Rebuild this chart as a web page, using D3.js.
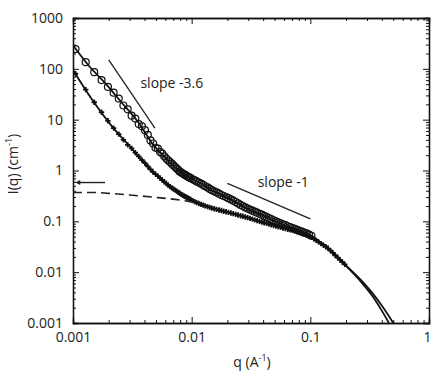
<!DOCTYPE html>
<html>
<head>
<meta charset="utf-8">
<script src="https://cdn.jsdelivr.net/npm/d3@7"></script>
<style>
  body { margin: 0; background: #fff; }
  svg text { font-family: 'Open Sans', sans-serif; fill: #222; }
</style>
</head>
<body>
<div id="chart"></div>
<script>
// upper sample (open circles)
const qUpper = [0.00105, 0.00128, 0.00151, 0.00174, 0.00197, 0.0022, 0.00243, 0.00266, 0.00289, 0.00312,
    0.00335, 0.00358, 0.00381, 0.00404, 0.00427, 0.0045, 0.00473, 0.00496, 0.00519, 0.00542,
    0.00565, 0.00588, 0.00611, 0.00634, 0.00657, 0.0068, 0.00703, 0.00726, 0.00749, 0.00772,
    0.00795, 0.00818, 0.00841, 0.00864, 0.00887, 0.0091, 0.00933, 0.00956, 0.00979,
    0.0102, 0.0106, 0.011, 0.0115, 0.012, 0.0125, 0.013, 0.0136, 0.0142, 0.0148,
    0.0155, 0.0162, 0.017, 0.0178, 0.0186, 0.0195, 0.0204, 0.0214, 0.0224, 0.0235,
    0.0246, 0.0258, 0.027, 0.0283, 0.0296, 0.031, 0.0325, 0.034, 0.0356, 0.0373,
    0.039, 0.0408, 0.0427, 0.0447, 0.0468, 0.049, 0.0513, 0.0537, 0.0562, 0.0588,
    0.0616, 0.0645, 0.0675, 0.0707, 0.074, 0.0775, 0.0811, 0.0849, 0.0889, 0.093, 0.0974, 0.102]
const iUpper = [245, 135, 86, 60, 44, 34, 26, 19, 16, 12,
    10.5, 8.2, 7.4, 6.2, 5.0, 3.9, 3.4, 2.8, 2.7, 2.3,
    2.15, 1.9, 1.72, 1.58, 1.47, 1.36, 1.26, 1.17, 1.09, 1.02,
    0.95, 0.91, 0.87, 0.84, 0.81, 0.78, 0.75, 0.73, 0.705,
    0.67, 0.64, 0.61, 0.58, 0.55, 0.52, 0.49, 0.465, 0.435, 0.41,
    0.39, 0.37, 0.35, 0.33, 0.315, 0.30, 0.285, 0.27, 0.255, 0.24,
    0.225, 0.21, 0.20, 0.188, 0.178, 0.17, 0.162, 0.155, 0.148, 0.141,
    0.135, 0.128, 0.122, 0.116, 0.111, 0.105, 0.1, 0.095, 0.091, 0.087,
    0.084, 0.08, 0.077, 0.074, 0.071, 0.068, 0.065, 0.0625, 0.06, 0.058, 0.055, 0.052]

// lower sample (small crosses)
const qLower = qUpper.concat([0.107, 0.112, 0.117, 0.123, 0.129, 0.135, 0.141, 0.148, 0.155,
    0.162, 0.17, 0.178, 0.186, 0.195])
const iLower = [80, 39, 22, 14, 9.5, 6.8, 5.2, 4.0, 3.2, 2.73,
    2.24, 1.9, 1.61, 1.39, 1.2, 1.05, 0.931, 0.848, 0.773, 0.708,
    0.65, 0.601, 0.556, 0.515, 0.481, 0.455, 0.432, 0.411, 0.392, 0.372,
    0.356, 0.34, 0.326, 0.315, 0.305, 0.295, 0.286, 0.278, 0.269,
    0.255, 0.244, 0.233, 0.224, 0.216, 0.209, 0.202, 0.195, 0.188, 0.182,
    0.177, 0.172, 0.167, 0.163, 0.158, 0.154, 0.15, 0.1456, 0.1415, 0.137,
    0.133, 0.129, 0.1256, 0.1216, 0.118, 0.1143, 0.1104, 0.107, 0.1035, 0.1,
    0.0969, 0.0938, 0.091, 0.0883, 0.0857, 0.083, 0.0807, 0.0782, 0.0759, 0.074,
    0.0718, 0.07, 0.0681, 0.0662, 0.0645, 0.0622, 0.0598, 0.0575, 0.0553, 0.0532, 0.0511, 0.0484,
    0.0452, 0.0422, 0.0394, 0.0365, 0.0339, 0.0317, 0.0295, 0.0265, 0.0239,
    0.0215, 0.0194, 0.0175, 0.0158, 0.0143]

// model fits
const fitUpperQ = [0.001, 0.00136, 0.00186, 0.00258, 0.00357, 0.00461, 0.0065, 0.0079, 0.0096, 0.0125,
    0.015, 0.02, 0.029, 0.04, 0.055, 0.075, 0.098, 0.14, 0.2, 0.27, 0.33, 0.4, 0.5]
const fitUpperI = [290, 115, 53, 21.5, 8.7, 3.5, 1.5, 0.95, 0.72, 0.52,
    0.4, 0.29, 0.18, 0.13, 0.092, 0.07, 0.055, 0.03, 0.0135, 0.0068, 0.004, 0.0022, 0.001]
const fitLowerQ = [0.001, 0.00145, 0.00213, 0.00313, 0.00461, 0.0065, 0.0084, 0.011, 0.015, 0.02,
    0.029, 0.04, 0.055, 0.075, 0.1, 0.14, 0.2, 0.27, 0.33, 0.4, 0.46]
const fitLowerI = [95, 24.7, 7.4, 2.7, 0.98, 0.49, 0.327, 0.233, 0.18, 0.152,
    0.12, 0.095, 0.077, 0.064, 0.05, 0.03, 0.0133, 0.0063, 0.0035, 0.00175, 0.001]

// dashed contribution
const dashQ = [0.001, 0.0015, 0.002, 0.003, 0.0047, 0.0079, 0.0102]
const dashI = [0.37, 0.37, 0.355, 0.33, 0.3, 0.263, 0.24]

// guides
const slopeAQ = [0.002, 0.0049]
const slopeAI = [150, 6.8]
const slopeBQ = [0.02, 0.1]
const slopeBI = [0.56, 0.112]
const arrowQ = [0.00186, 0.00114]
const arrowI = [0.58, 0.58]

const xMajor = [0.001, 0.01, 0.1, 1]
const xLabels = ['0.001', '0.01', '0.1', '1']
const yMajor = [0.001, 0.01, 0.1, 1, 10, 100, 1000]
const yLabels = ['0.001', '0.01', '0.1', '1', '10', '100', '1000']

let width = 432
let height = 374
let margin = { top: 18, right: 3, bottom: 51, left: 73 },
    w = width - margin.left - margin.right,
    h = height - margin.top - margin.bottom

let svg = d3
    .select('#chart')
    .append('svg')
    .attr('width', width)
    .attr('height', height)
let g = svg.append('g').attr('transform', 'translate(' + margin.left + ',' + margin.top + ')')

let x = d3.scaleLog().domain([0.001, 1]).range([0, w])
let y = d3.scaleLog().domain([0.001, 1000]).range([h, 0])

// minor tick values: 2..9 in each decade
function minors(majors) {
    let out = []
    majors.slice(0, -1).forEach(function (m) {
        for (let k = 2; k < 10; k++) out.push(m * k)
    })
    return out
}

function styleAxis(sel) {
    sel.select('.domain').attr('stroke', '#111').attr('stroke-width', 1.3)
    sel.selectAll('.tick line').attr('stroke', '#111').attr('stroke-width', 1)
    sel.selectAll('text').attr('font-size', '14px').attr('fill', '#222')
}

// bottom
let xAxisG = g.append('g')
    .attr('transform', 'translate(0,' + h + ')')
    .call(d3.axisBottom(x).tickValues(xMajor).tickSize(-6).tickPadding(9)
        .tickFormat((d, i) => xLabels[i]))
    .call(styleAxis)
// last label sits on the window edge
xAxisG.selectAll('.tick text').filter(d => d === 1).attr('dx', -2)
g.append('g')
    .attr('transform', 'translate(0,' + h + ')')
    .call(d3.axisBottom(x).tickValues(minors(xMajor)).tickSize(-3).tickFormat(''))
    .call(styleAxis)
// top
g.append('g')
    .call(d3.axisTop(x).tickValues(xMajor).tickSize(-6).tickFormat(''))
    .call(styleAxis)
g.append('g')
    .call(d3.axisTop(x).tickValues(minors(xMajor)).tickSize(-3).tickFormat(''))
    .call(styleAxis)
// left
g.append('g')
    .call(d3.axisLeft(y).tickValues(yMajor).tickSize(-6).tickPadding(10)
        .tickFormat((d, i) => yLabels[i]))
    .call(styleAxis)
g.append('g')
    .call(d3.axisLeft(y).tickValues(minors(yMajor)).tickSize(-3).tickFormat(''))
    .call(styleAxis)
// right
g.append('g')
    .attr('transform', 'translate(' + w + ',0)')
    .call(d3.axisRight(y).tickValues(yMajor).tickSize(-6).tickFormat(''))
    .call(styleAxis)
g.append('g')
    .attr('transform', 'translate(' + w + ',0)')
    .call(d3.axisRight(y).tickValues(minors(yMajor)).tickSize(-3).tickFormat(''))
    .call(styleAxis)

// axis titles
let xt = svg.append('text')
    .attr('x', 252)
    .attr('y', 367)
    .attr('text-anchor', 'middle')
    .attr('font-size', '14px')
xt.append('tspan').text('q  (A')
xt.append('tspan').attr('font-size', '9px').attr('dy', -6).text('-1')
xt.append('tspan').attr('dy', 6).text(')')

let yt = svg.append('text')
    .attr('transform', 'translate(18,164) rotate(-90)')
    .attr('text-anchor', 'middle')
    .attr('font-size', '14px')
yt.append('tspan').text('I(q) (cm')
yt.append('tspan').attr('font-size', '9px').attr('dy', -6).text('-1')
yt.append('tspan').attr('dy', 6).text(')')

g.append('clipPath').attr('id', 'plot-clip')
    .append('rect').attr('width', w).attr('height', h)
let plot = g.append('g').attr('clip-path', 'url(#plot-clip)')

let zip = (qs, is) => qs.map((q, i) => [q, is[i]])
let line = d3.line()
    .x(d => x(d[0]))
    .y(d => y(d[1]))

// lower markers
plot.selectAll('.dot')
    .data(zip(qLower, iLower))
    .enter()
    .append('path')
    .attr('d', d3.symbol(d3.symbolCross).size(16))
    .attr('transform', d => 'translate(' + x(d[0]) + ',' + y(d[1]) + ')')
    .attr('fill', '#111')

// upper circles
plot.selectAll('.circ')
    .data(zip(qUpper, iUpper))
    .enter()
    .append('circle')
    .attr('cx', d => x(d[0]))
    .attr('cy', d => y(d[1]))
    .attr('r', 3.5)
    .attr('fill', 'none')
    .attr('stroke', '#111')
    .attr('stroke-width', 1.2)

// fits
plot.append('path')
    .datum(zip(fitUpperQ, fitUpperI))
    .attr('d', line.curve(d3.curveMonotoneX))
    .attr('fill', 'none')
    .attr('stroke', '#111')
    .attr('stroke-width', 1.8)
plot.append('path')
    .datum(zip(fitLowerQ, fitLowerI))
    .attr('d', line.curve(d3.curveMonotoneX))
    .attr('fill', 'none')
    .attr('stroke', '#111')
    .attr('stroke-width', 1.8)

// dashed
plot.append('path')
    .datum(zip(dashQ, dashI))
    .attr('d', line.curve(d3.curveMonotoneX))
    .attr('fill', 'none')
    .attr('stroke', '#222')
    .attr('stroke-width', 1.6)
    .attr('stroke-dasharray', '9,5')

// slope guides
plot.append('path')
    .datum(zip(slopeAQ, slopeAI))
    .attr('d', line.curve(d3.curveLinear))
    .attr('stroke', '#222')
    .attr('stroke-width', 1.3)
plot.append('path')
    .datum(zip(slopeBQ, slopeBI))
    .attr('d', line.curve(d3.curveLinear))
    .attr('stroke', '#222')
    .attr('stroke-width', 1.3)

// arrow
svg.append('defs').append('marker')
    .attr('id', 'head')
    .attr('viewBox', '0 0 10 10')
    .attr('refX', 1)
    .attr('refY', 5)
    .attr('markerWidth', 6)
    .attr('markerHeight', 5)
    .attr('markerUnits', 'userSpaceOnUse')
    .attr('orient', 'auto')
    .append('path')
    .attr('d', 'M0,0L10,5L0,10z')
    .attr('fill', '#222')
g.append('path')
    .datum(zip(arrowQ, arrowI))
    .attr('d', line.curve(d3.curveLinear))
    .attr('stroke', '#222')
    .attr('stroke-width', 1.4)
    .attr('marker-end', 'url(#head)')

// labels
g.append('text')
    .attr('x', x(0.0037))
    .attr('y', y(42))
    .attr('font-size', '14px')
    .text('slope -3.6')
g.append('text')
    .attr('x', x(0.036))
    .attr('y', y(0.47))
    .attr('font-size', '14px')
    .text('slope  -1')
</script>
</body>
</html>
